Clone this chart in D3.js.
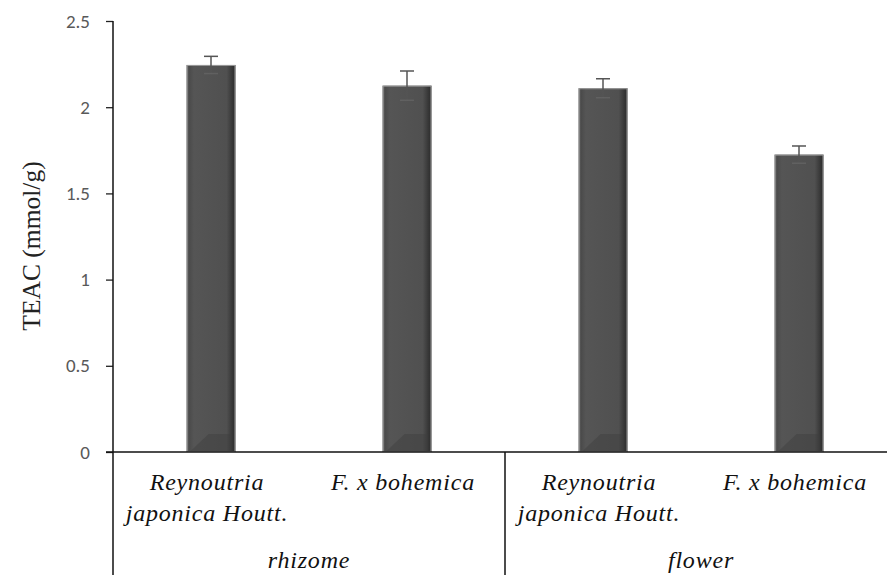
<!DOCTYPE html>
<html>
<head>
<meta charset="utf-8">
<script src="https://cdn.jsdelivr.net/npm/d3@7"></script>
<style>
body { margin: 0; background: #fff; }
svg { display: block; }
.serif { font-family: 'Liberation Serif', 'DejaVu Serif', serif; }
</style>
</head>
<body>
<div id="chart"></div>
<script>
// donnees
var groupes = ['rhizome', 'flower'];
var especes = [['Reynoutria', 'japonica Houtt.'], ['F. x bohemica']];
var valeurs = [2.245, 2.125, 2.11, 1.725];
var erreurs = [0.05, 0.085, 0.055, 0.05];
var ticksY = [0, 0.5, 1, 1.5, 2, 2.5];

var largeur = 887, hauteur = 575;
var gauche = 113, droite = 897, haut = 21, bas = 452;

var svg = d3.select('#chart').append('svg')
    .attr('width', largeur).attr('height', hauteur);

var defs = svg.append('defs');
var grad = defs.append('linearGradient').attr('id', 'barre')
    .attr('x1', '0%').attr('x2', '100%').attr('y1', '0%').attr('y2', '0%');
[['0%', '#7a7a7a'], ['5%', '#4a4a4a'], ['15%', '#555555'], ['82%', '#505050'], ['93%', '#383838'], ['100%', '#2a2a2a']]
    .forEach(function(s) { grad.append('stop').attr('offset', s[0]).attr('stop-color', s[1]); });

var categories = [];
groupes.forEach(function(g, i) {
    especes.forEach(function(e, j) { categories.push({groupe: g, nom: e, id: i * 2 + j}); });
});

var x = d3.scaleBand().domain(d3.range(categories.length)).range([gauche, droite]).paddingInner(0.75).paddingOuter(0.375);
var xg = d3.scaleBand().domain(groupes).range([gauche, droite]);
var y = d3.scaleLinear().domain([0, 2.5]).range([bas, haut]);

// axe Y
var axeY = svg.append('g').attr('transform', 'translate(' + gauche + ',0)')
    .call(d3.axisLeft(y).tickValues(ticksY).tickSize(7).tickPadding(16).tickFormat(d3.format('')));
axeY.select('.domain').remove();
axeY.attr('font-family', 'Carlito, Open Sans, sans-serif').attr('font-size', 19);
axeY.selectAll('.tick line').attr('stroke', '#222').attr('stroke-width', 1.3);
axeY.selectAll('.tick text').attr('fill', '#595959');

svg.append('text').attr('class', 'serif')
    .attr('transform', 'translate(40,246) rotate(-90)')
    .attr('text-anchor', 'middle')
    .attr('font-size', 25.5)
    .attr('fill', '#222')
    .text('TEAC (mmol/g)');

// barres
var barres = svg.append('g');
categories.forEach(function(c, i) {
    var bx = x(i), bw = x.bandwidth(), by = y(valeurs[i]);
    barres.append('rect').attr('x', bx).attr('y', by).attr('width', bw).attr('height', bas - by)
        .attr('fill', 'url(#barre)');
    barres.append('path')
        .attr('d', 'M' + (bx + 3) + ',' + bas + 'L' + (bx + bw * 0.45) + ',' + (bas - 18) + 'L' + (bx + bw - 4) + ',' + (bas - 18) + 'L' + (bx + bw - 4) + ',' + bas + 'Z')
        .attr('fill', '#3e3e3e').attr('opacity', 0.45);
    barres.append('rect').attr('x', bx + 0.5).attr('y', by + 0.5).attr('width', bw - 1).attr('height', bas - by - 1)
        .attr('fill', 'none').attr('stroke', '#9a9a9a').attr('stroke-width', 1);
});

// barres d'erreur
var eb = svg.append('g').attr('stroke', '#555').attr('stroke-width', 1.5);
categories.forEach(function(c, i) {
    var cx = x(i) + x.bandwidth() / 2;
    eb.append('line').attr('x1', cx).attr('x2', cx).attr('y1', y(valeurs[i] - erreurs[i])).attr('y2', y(valeurs[i] + erreurs[i]));
    eb.append('line').attr('x1', cx - 7).attr('x2', cx + 7).attr('y1', y(valeurs[i] + erreurs[i])).attr('y2', y(valeurs[i] + erreurs[i]));
    eb.append('line').attr('x1', cx - 7).attr('x2', cx + 7).attr('y1', y(valeurs[i] - erreurs[i])).attr('y2', y(valeurs[i] - erreurs[i]))
        .attr('stroke', '#777').attr('opacity', 0.4);
});

// axes
svg.append('line').attr('x1', gauche - 7).attr('x2', largeur).attr('y1', bas).attr('y2', bas)
    .attr('stroke', '#111').attr('stroke-width', 1.5);
svg.append('line').attr('x1', gauche).attr('x2', gauche).attr('y1', haut).attr('y2', hauteur)
    .attr('stroke', '#111').attr('stroke-width', 1.5);
svg.append('line').attr('x1', xg('flower')).attr('x2', xg('flower')).attr('y1', bas).attr('y2', hauteur)
    .attr('stroke', '#111').attr('stroke-width', 1.5);

// libelles
function libelle(cx, cy, lignes) {
    var t = svg.append('text').attr('class', 'serif').attr('text-anchor', 'middle')
        .attr('font-style', 'italic').attr('font-size', 24).attr('letter-spacing', 0.8).attr('fill', '#111');
    lignes.forEach(function(ligne, k) {
        t.append('tspan').attr('x', cx).attr('y', cy + k * 31).text(ligne);
    });
}
categories.forEach(function(c, i) {
    libelle(x(i) + x.bandwidth() / 2 - 4, 490, c.nom);
});
groupes.forEach(function(g) {
    libelle(xg(g) + xg.bandwidth() / 2, 568, [g]);
});
</script>
</body>
</html>
